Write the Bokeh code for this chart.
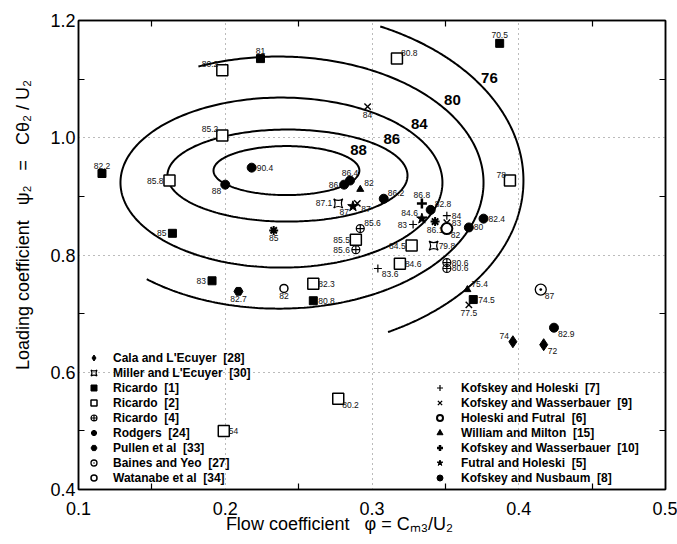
import numpy as np
from bokeh.plotting import figure
from bokeh.models import (Range1d, LinearAxis, FixedTicker, PrintfTickFormatter,
                          Legend, LegendItem)
from bokeh.core.properties import value
from bokeh.embed import file_html
from bokeh.resources import INLINE

# ---------------- stage data: flow coefficient, loading coefficient, efficiency ----------------
cala_phi = [0.396, 0.417]
cala_psi = [0.652, 0.647]
cala_eta = ["74", "72"]
cala_at = ["ul", "lr"]

miller_phi = [0.277, 0.342]
miller_psi = [0.888, 0.816]
miller_eta = ["87.1", "79.8"]
miller_at = ["l", "r"]

ricardo1_phi = [0.224, 0.116, 0.164, 0.191, 0.260, 0.369, 0.387]
ricardo1_psi = [1.135, 0.939, 0.837, 0.756, 0.722, 0.724, 1.161]
ricardo1_eta = ["81", "82.2", "85", "83", "80.8", "74.5", "70.5"]
ricardo1_at = ["u", "u", "l", "l", "r", "r", "u"]

ricardo2_phi = [0.198, 0.198, 0.162, 0.317, 0.394, 0.289, 0.327, 0.319, 0.260, 0.277, 0.199]
ricardo2_psi = [1.115, 1.004, 0.927, 1.135, 0.927, 0.826, 0.816, 0.785, 0.751, 0.555, 0.500]
ricardo2_eta = ["80.2", "85.2", "85.8", "80.8", "78", "85.5", "84.5", "84.6", "82.3", "80.2", "54"]
ricardo2_at = ["ul", "ul", "l", "ur", "ul", "l", "l", "r", "r", "lr", "r"]

ricardo4_phi = [0.292, 0.289, 0.351, 0.351]
ricardo4_psi = [0.845, 0.809, 0.787, 0.777]
ricardo4_eta = ["85.6", "85.6", "80.6", "80.6"]
ricardo4_at = ["ur", "l", "r", "r"]

rodgers_phi = [0.233, 0.343]
rodgers_psi = [0.842, 0.857]
rodgers_eta = ["85", "86.1"]
rodgers_at = ["d", "d"]

pullen_phi = [0.209]
pullen_psi = [0.738]
pullen_eta = ["82.7"]
pullen_at = ["d"]

baines_phi = [0.415]
baines_psi = [0.741]
baines_eta = ["87"]
baines_at = ["lr"]

watanabe_phi = [0.240]
watanabe_psi = [0.743]
watanabe_eta = ["82"]
watanabe_at = ["d"]

kh7_phi = [0.351, 0.328, 0.304]
kh7_psi = [0.867, 0.852, 0.777]
kh7_eta = ["84", "83", "83.6"]
kh7_at = ["r", "l", "lr"]

kw9_phi = [0.297, 0.290, 0.351, 0.366]
kw9_psi = [1.053, 0.888, 0.855, 0.715]
kw9_eta = ["84", "87", "83", "77.5"]
kw9_at = ["d", "lr", "r", "d"]

hf6_phi = [0.351]
hf6_psi = [0.845]
hf6_eta = ["82"]
hf6_at = ["lr"]

wm15_phi = [0.292, 0.365]
wm15_psi = [0.912, 0.741]
wm15_eta = ["82", "75.4"]
wm15_at = ["ur", "ur"]

kw10_phi = [0.334]
kw10_psi = [0.888]
kw10_eta = ["86.8"]
kw10_at = ["u"]

fh5_phi = [0.287, 0.334]
fh5_psi = [0.883, 0.862]
fh5_eta = ["87", "84.6"]
fh5_at = ["ll", "ul"]

kn8_phi = [0.218, 0.200, 0.285, 0.281, 0.308, 0.340, 0.366, 0.376, 0.424]
kn8_psi = [0.949, 0.920, 0.927, 0.920, 0.896, 0.877, 0.847, 0.862, 0.676]
kn8_eta = ["90.4", "88", "86.4", "86", "86.2", "82.8", "80", "82.4", "82.9"]
kn8_at = ["r", "ll", "u", "l", "ur", "ur", "r", "r", "lr"]

# ---------------- efficiency contours (elliptical fits) ----------------
contour_level = ["88", "86", "84", "80", "76"]
contour_phi0 = [0.2417, 0.2424, 0.2383, 0.2363, 0.2342]
contour_psi0 = [0.944, 0.9355, 0.9235, 0.9235, 0.927]
contour_dphi = [0.0497, 0.0818, 0.1097, 0.1397, 0.169]
contour_dpsi = [0.0418, 0.0785, 0.145, 0.215, 0.290]
contour_start = [0, 0, 0, -130, -63]      # degrees along the ellipse
contour_end = [360, 360, 360, 113, 65]
contour_label_at = [25, 35, 35, 35, 33]

FONT = "Liberation Sans"
NB = "\u00a0"

p = figure(width=677, height=544, x_range=Range1d(0.1, 0.5), y_range=Range1d(0.4, 1.2),
           output_backend="svg", toolbar_location=None,
           min_border_left=78, min_border_right=12, min_border_top=20, min_border_bottom=55)
p.background_fill_color = "white"
p.border_fill_color = "white"
p.outline_line_color = "black"
p.outline_line_width = 1.5

# axes
for ax in (p.xaxis[0], p.yaxis[0]):
    ax.major_label_text_font = FONT
    ax.major_label_text_font_size = "18px"
    ax.major_label_text_color = "black"
    ax.axis_label_text_font = FONT
    ax.axis_label_text_font_size = "18px"
    ax.axis_label_text_font_style = "normal"
    ax.axis_label_text_color = "black"
    ax.axis_line_width = 1.5
    ax.major_tick_in = 0
    ax.major_tick_out = 0
    ax.minor_tick_in = 6
    ax.minor_tick_out = 0
    ax.minor_tick_line_width = 1.2
    ax.formatter = PrintfTickFormatter(format="%.1f")
p.xaxis[0].ticker = FixedTicker(ticks=[0.1, 0.2, 0.3, 0.4, 0.5], minor_ticks=[0.15, 0.25, 0.35, 0.45])
p.yaxis[0].ticker = FixedTicker(ticks=[0.4, 0.6, 0.8, 1.0, 1.2], minor_ticks=[0.5, 0.7, 0.9, 1.1])
p.xaxis[0].major_label_standoff = 12
p.yaxis[0].major_label_standoff = 3

p.xaxis[0].axis_label = ("Flow coefficient" + NB * 3 + "\u03c6 = C\u2098\u2083/U\u2082" + NB * 13)
p.xaxis[0].axis_label_standoff = -4
p.yaxis[0].axis_label = (NB * 12 + "Loading coefficient" + NB * 3 + "\u03c8\u2082" + NB * 3 + "="
                         + NB * 3 + "C\u03b8\u2082" + NB + "/" + NB + "U\u2082")
p.yaxis[0].axis_label_standoff = 14

# tick marks on the upper and right frame edges (no labels)
box_axis = dict(major_label_text_color=None, major_label_text_font_size="1px",
                major_tick_in=6, major_tick_out=0, major_tick_line_width=1.2,
                minor_tick_in=0, minor_tick_out=0, axis_line_width=1.5)
top_axis = LinearAxis(ticker=FixedTicker(ticks=[0.15, 0.25, 0.35, 0.45]), **box_axis)
right_axis = LinearAxis(ticker=FixedTicker(ticks=[0.5, 0.7, 0.9, 1.1]), **box_axis)
p.add_layout(top_axis, "above")
p.add_layout(right_axis, "right")

p.xgrid.grid_line_color = "#777777"
p.ygrid.grid_line_color = "#777777"
p.xgrid.grid_line_dash = "1 4"
p.ygrid.grid_line_dash = "1 4"
p.xgrid.grid_line_width = 1
p.ygrid.grid_line_width = 1

# contours
for lev, cx, cy, ax_, by_, t0, t1, tl in zip(contour_level, contour_phi0, contour_psi0,
                                             contour_dphi, contour_dpsi, contour_start,
                                             contour_end, contour_label_at):
    t = np.radians(np.linspace(t0, t1, 300))
    p.line(cx + ax_ * np.cos(t), cy + by_ * np.sin(t), line_color="black", line_width=2)
    a = np.radians(tl)
    p.text(x=[cx + ax_ * np.cos(a)], y=[cy + by_ * np.sin(a)], text=[lev],
           x_offset=6, y_offset=-10, text_align="center", text_baseline="middle",
           text_font=value(FONT), text_font_size="15px", text_font_style="bold",
           text_color="black")

# efficiency labels beside the points
OFFSETS = {
    "r": (5, 0, "left", "middle"),
    "l": (-6, 0, "right", "middle"),
    "u": (0, -5, "center", "bottom"),
    "d": (0, 5, "center", "top"),
    "ur": (4, -3, "left", "bottom"),
    "ul": (-4, -3, "right", "bottom"),
    "lr": (4, 3, "left", "top"),
    "ll": (-4, 3, "right", "top"),
}


def annotate(phi, psi, eta, where):
    for code in sorted(set(where)):
        idx = [i for i, w in enumerate(where) if w == code]
        dx, dy, al, bl = OFFSETS[code]
        p.text(x=[phi[i] for i in idx], y=[psi[i] for i in idx], text=[eta[i] for i in idx],
               x_offset=dx, y_offset=dy, text_align=al, text_baseline=bl,
               text_font=value(FONT), text_font_size="8.5px", text_color="#111111")


series = [
    ("Cala and L'Ecuyer  [28]", cala_phi, cala_psi, cala_eta, cala_at,
     dict(marker="diamond", size=12, fill_color="black", line_color="black"), "left"),
    ("Miller and L'Ecuyer  [30]", miller_phi, miller_psi, miller_eta, miller_at,
     dict(marker="square_pin", size=9, fill_color=None, line_color="black", line_width=1.2), "left"),
    ("Ricardo  [1]", ricardo1_phi, ricardo1_psi, ricardo1_eta, ricardo1_at,
     dict(marker="square", size=8, fill_color="black", line_color="black"), "left"),
    ("Ricardo  [2]", ricardo2_phi, ricardo2_psi, ricardo2_eta, ricardo2_at,
     dict(marker="square", size=11, fill_color="white", line_color="black", line_width=1.5), "left"),
    ("Ricardo  [4]", ricardo4_phi, ricardo4_psi, ricardo4_eta, ricardo4_at,
     dict(marker="circle_cross", size=8, fill_color=None, line_color="black", line_width=1.2), "left"),
    ("Rodgers  [24]", rodgers_phi, rodgers_psi, rodgers_eta, rodgers_at,
     dict(marker="asterisk", size=9, line_color="black", line_width=2), "left"),
    ("Pullen et al  [33]", pullen_phi, pullen_psi, pullen_eta, pullen_at,
     dict(marker="hex", size=9, fill_color="black", line_color="black"), "left"),
    ("Baines and Yeo  [27]", baines_phi, baines_psi, baines_eta, baines_at,
     dict(marker="circle_dot", size=11, fill_color=None, line_color="black", line_width=1.3), "left"),
    ("Watanabe et al  [34]", watanabe_phi, watanabe_psi, watanabe_eta, watanabe_at,
     dict(marker="circle", size=8, fill_color="white", line_color="black", line_width=1.5), "left"),
    ("Kofskey and Holeski  [7]", kh7_phi, kh7_psi, kh7_eta, kh7_at,
     dict(marker="cross", size=8, line_color="black", line_width=1.2), "right"),
    ("Kofskey and Wasserbauer  [9]", kw9_phi, kw9_psi, kw9_eta, kw9_at,
     dict(marker="x", size=9, line_color="black", line_width=1.4), "right"),
    ("Holeski and Futral  [6]", hf6_phi, hf6_psi, hf6_eta, hf6_at,
     dict(marker="circle", size=11, fill_color="white", line_color="black", line_width=2), "right"),
    ("William and Milton  [15]", wm15_phi, wm15_psi, wm15_eta, wm15_at,
     dict(marker="triangle", size=7, fill_color="black", line_color="black"), "right"),
    ("Kofskey and Wasserbauer  [10]", kw10_phi, kw10_psi, kw10_eta, kw10_at,
     dict(marker="cross", size=10, line_color="black", line_width=2.5), "right"),
    ("Futral and Holeski  [5]", fh5_phi, fh5_psi, fh5_eta, fh5_at,
     dict(marker="star", size=11, fill_color="black", line_color="black"), "right"),
    ("Kofskey and Nusbaum  [8]", kn8_phi, kn8_psi, kn8_eta, kn8_at,
     dict(marker="circle", size=9, fill_color="black", line_color="black"), "right"),
]

left_items, right_items = [], []
for name, phi, psi, eta, where, style, side in series:
    r = p.scatter(x=phi, y=psi, **style)
    annotate(phi, psi, eta, where)
    (left_items if side == "left" else right_items).append(LegendItem(label=name, renderers=[r]))


def make_legend(items, loc, standoff):
    return Legend(items=items, location=loc, label_text_font=FONT, label_text_font_style="bold",
                  label_text_font_size="12px", label_text_color="black",
                  glyph_width=15, glyph_height=15, label_height=15, spacing=0,
                  padding=2, margin=0, label_standoff=standoff,
                  border_line_color=None, background_fill_alpha=0)


p.add_layout(make_legend(left_items, (8, 4), 12))
p.add_layout(make_legend(right_items, (354, 4), 14))

open("out.html", "w").write(file_html(p, INLINE))
